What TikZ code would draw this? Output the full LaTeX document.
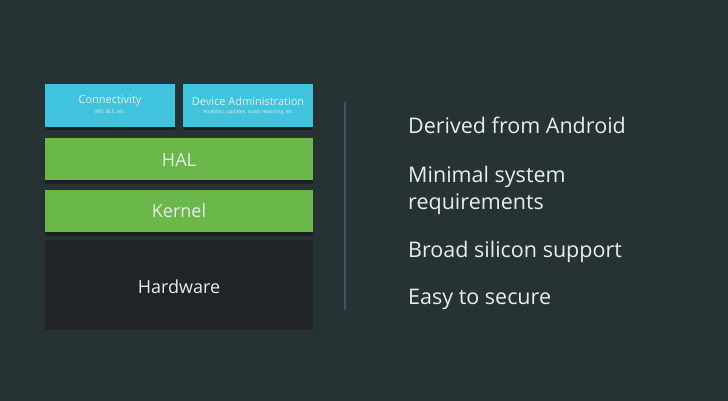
\documentclass[tikz,border=0pt]{standalone}
\usepackage{fontspec}
\setmainfont{Open Sans}
\usepackage{tikz}
\tikzset{>=stealth}
\definecolor{slidebg}{RGB}{38,50,51}
\definecolor{cyanbox}{RGB}{64,196,222}
\definecolor{greenbox}{RGB}{106,184,74}
\definecolor{hwbox}{RGB}{33,36,39}
\definecolor{boxshadow}{RGB}{28,34,36}
\definecolor{divider}{RGB}{58,88,98}
\definecolor{lighttext}{RGB}{232,236,236}
\tikzset{
    boxtext/.style={text=lighttext,inner sep=0pt},
    pointtext/.style={text=lighttext,inner sep=0pt,anchor=base west,font=\fontsize{21.5}{26}\selectfont}
}

\begin{document}
\begin{tikzpicture}[x=1pt,y=-1pt]
    \fill[slidebg] (0,0) rectangle (728,401);

    % top row
    \fill[boxshadow] (45,86) rectangle (175,130);
    \fill[cyanbox] (45,84) rectangle (175,127);
    \fill[boxshadow] (183,86) rectangle (313,130);
    \fill[cyanbox] (183,84) rectangle (313,127);
    \node[boxtext,font=\fontsize{11}{13}\selectfont] (conn) at (110,101) {Connectivity};
    \node[boxtext,font=\fontsize{5}{6}\selectfont] (connsub) at (110,112) {Wifi, BLE, etc.};
    \node[boxtext,font=\fontsize{11}{13}\selectfont] (admin) at (248,101) {Device Administration};
    \node[boxtext,font=\fontsize{5}{6}\selectfont] (adminsub) at (248,112) {Analytics, updates, crash reporting, etc};

    % HAL and kernel
    \fill[boxshadow] (45,140) rectangle (313,184);
    \fill[greenbox] (45,138) rectangle (313,180);
    \node[boxtext,font=\fontsize{18}{21}\selectfont] (hal) at (179,160) {HAL};
    \fill[boxshadow] (45,192) rectangle (313,236);
    \fill[greenbox] (45,190) rectangle (313,232);
    \node[boxtext,font=\fontsize{18}{21}\selectfont] (kernel) at (179,211) {Kernel};

    % hardware
    \fill[hwbox] (45,240) rectangle (313,330);
    \node[boxtext,font=\fontsize{18}{21}\selectfont] (hw) at (179,287) {Hardware};

    \draw[divider,line width=1.5pt] (345,102) -- (345,310);

    \node[pointtext] (p1) at (408,134) {Derived from Android};
    \node[pointtext] (p2) at (408,182) {Minimal system};
    \node[pointtext] (p3) at (408,209) {requirements};
    \node[pointtext] (p4) at (408,257) {Broad silicon support};
    \node[pointtext] (p5) at (408,304) {Easy to secure};
\end{tikzpicture}
\end{document}
